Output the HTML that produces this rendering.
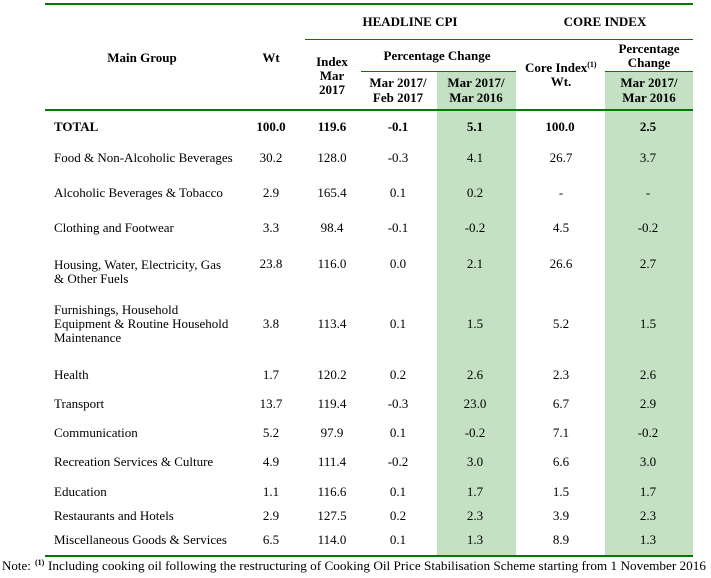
<!DOCTYPE html>
<html><head><meta charset="utf-8"><style>
html,body{margin:0;padding:0;background:#fff;}
svg{display:block;}
text{font-family:"Liberation Serif","Times New Roman",serif;font-size:13px;fill:#000;}
.b{font-weight:bold;}
.m{text-anchor:middle;}
.s{font-size:8px;font-weight:bold;}
</style></head><body>
<svg width="711" height="578" viewBox="0 0 711 578" xmlns="http://www.w3.org/2000/svg">
<!-- green columns -->
<rect x="437" y="72" width="79" height="484" fill="#c4e1c4"/>
<rect x="605" y="72" width="88" height="484" fill="#c4e1c4"/>
<!-- lines -->
<rect x="45" y="3" width="648" height="2" fill="#007a00"/>
<rect x="305" y="39" width="388" height="1" fill="#007a00"/>
<rect x="361" y="71" width="155" height="1" fill="#007a00"/>
<rect x="605" y="71" width="88" height="1" fill="#007a00"/>
<rect x="45" y="109" width="648" height="2" fill="#007a00"/>
<rect x="45" y="555" width="648" height="2" fill="#007a00"/>

<!-- header -->
<text class="b m" x="410" y="26">HEADLINE CPI</text>
<text class="b m" x="605" y="26">CORE INDEX</text>
<text class="b m" x="142" y="62">Main Group</text>
<text class="b m" x="271" y="62">Wt</text>
<text class="b m" x="332" y="66">Index</text>
<text class="b m" x="332" y="80">Mar</text>
<text class="b m" x="332" y="94">2017</text>
<text class="b m" x="437" y="60">Percentage Change</text>
<text class="b m" x="398" y="87">Mar 2017/</text>
<text class="b m" x="398" y="102">Feb 2017</text>
<text class="b m" x="476" y="87">Mar 2017/</text>
<text class="b m" x="476" y="102">Mar 2016</text>
<text class="b" x="525" y="72">Core Index<tspan class="s" dy="-5">(1)</tspan></text>
<text class="b m" x="561" y="86">Wt.</text>
<text class="b m" x="649" y="53">Percentage</text>
<text class="b m" x="649" y="67">Change</text>
<text class="b m" x="649" y="87">Mar 2017/</text>
<text class="b m" x="649" y="102">Mar 2016</text>

<!-- TOTAL -->
<text class="b" x="54" y="131">TOTAL</text>
<text class="b m" x="271" y="131">100.0</text>
<text class="b m" x="332" y="131">119.6</text>
<text class="b m" x="398" y="131">-0.1</text>
<text class="b m" x="475" y="131">5.1</text>
<text class="b m" x="560" y="131">100.0</text>
<text class="b m" x="648" y="131">2.5</text>

<!-- rows -->
<text x="54" y="162">Food &amp; Non-Alcoholic Beverages</text>
<text class="m" x="271" y="162">30.2</text><text class="m" x="332" y="162">128.0</text><text class="m" x="398" y="162">-0.3</text><text class="m" x="475" y="162">4.1</text><text class="m" x="561" y="162">26.7</text><text class="m" x="648" y="162">3.7</text>

<text x="54" y="197">Alcoholic Beverages &amp; Tobacco</text>
<text class="m" x="271" y="197">2.9</text><text class="m" x="332" y="197">165.4</text><text class="m" x="398" y="197">0.1</text><text class="m" x="475" y="197">0.2</text><text class="m" x="561" y="197">-</text><text class="m" x="648" y="197">-</text>

<text x="54" y="232">Clothing and Footwear</text>
<text class="m" x="271" y="232">3.3</text><text class="m" x="332" y="232">98.4</text><text class="m" x="398" y="232">-0.1</text><text class="m" x="475" y="232">-0.2</text><text class="m" x="561" y="232">4.5</text><text class="m" x="648" y="232">-0.2</text>

<text x="54" y="269">Housing, Water, Electricity, Gas</text>
<text x="54" y="283">&amp; Other Fuels</text>
<text class="m" x="271" y="268">23.8</text><text class="m" x="332" y="268">116.0</text><text class="m" x="398" y="268">0.0</text><text class="m" x="475" y="268">2.1</text><text class="m" x="561" y="268">26.6</text><text class="m" x="648" y="268">2.7</text>

<text x="54" y="314">Furnishings, Household</text>
<text x="54" y="328">Equipment  &amp; Routine Household</text>
<text x="54" y="342">Maintenance</text>
<text class="m" x="271" y="328">3.8</text><text class="m" x="332" y="328">113.4</text><text class="m" x="398" y="328">0.1</text><text class="m" x="475" y="328">1.5</text><text class="m" x="561" y="328">5.2</text><text class="m" x="648" y="328">1.5</text>

<text x="54" y="379">Health</text>
<text class="m" x="271" y="379">1.7</text><text class="m" x="332" y="379">120.2</text><text class="m" x="398" y="379">0.2</text><text class="m" x="475" y="379">2.6</text><text class="m" x="561" y="379">2.3</text><text class="m" x="648" y="379">2.6</text>

<text x="54" y="408">Transport</text>
<text class="m" x="271" y="408">13.7</text><text class="m" x="332" y="408">119.4</text><text class="m" x="398" y="408">-0.3</text><text class="m" x="475" y="408">23.0</text><text class="m" x="561" y="408">6.7</text><text class="m" x="648" y="408">2.9</text>

<text x="54" y="437">Communication</text>
<text class="m" x="271" y="437">5.2</text><text class="m" x="332" y="437">97.9</text><text class="m" x="398" y="437">0.1</text><text class="m" x="475" y="437">-0.2</text><text class="m" x="561" y="437">7.1</text><text class="m" x="648" y="437">-0.2</text>

<text x="54" y="466">Recreation Services &amp; Culture</text>
<text class="m" x="271" y="466">4.9</text><text class="m" x="332" y="466">111.4</text><text class="m" x="398" y="466">-0.2</text><text class="m" x="475" y="466">3.0</text><text class="m" x="561" y="466">6.6</text><text class="m" x="648" y="466">3.0</text>

<text x="54" y="496">Education</text>
<text class="m" x="271" y="496">1.1</text><text class="m" x="332" y="496">116.6</text><text class="m" x="398" y="496">0.1</text><text class="m" x="475" y="496">1.7</text><text class="m" x="561" y="496">1.5</text><text class="m" x="648" y="496">1.7</text>

<text x="54" y="520">Restaurants and Hotels</text>
<text class="m" x="271" y="520">2.9</text><text class="m" x="332" y="520">127.5</text><text class="m" x="398" y="520">0.2</text><text class="m" x="475" y="520">2.3</text><text class="m" x="561" y="520">3.9</text><text class="m" x="648" y="520">2.3</text>

<text x="54" y="544">Miscellaneous Goods &amp; Services</text>
<text class="m" x="271" y="544">6.5</text><text class="m" x="332" y="544">114.0</text><text class="m" x="398" y="544">0.1</text><text class="m" x="475" y="544">1.3</text><text class="m" x="561" y="544">8.9</text><text class="m" x="648" y="544">1.3</text>

<!-- note -->
<text x="2" y="570">Note:</text>
<text class="s" x="35" y="565">(1)</text>
<text x="48" y="570" textLength="658" lengthAdjust="spacingAndGlyphs">Including cooking oil following the restructuring of Cooking Oil Price Stabilisation Scheme starting from 1 November 2016</text>
</svg>
</body></html>
